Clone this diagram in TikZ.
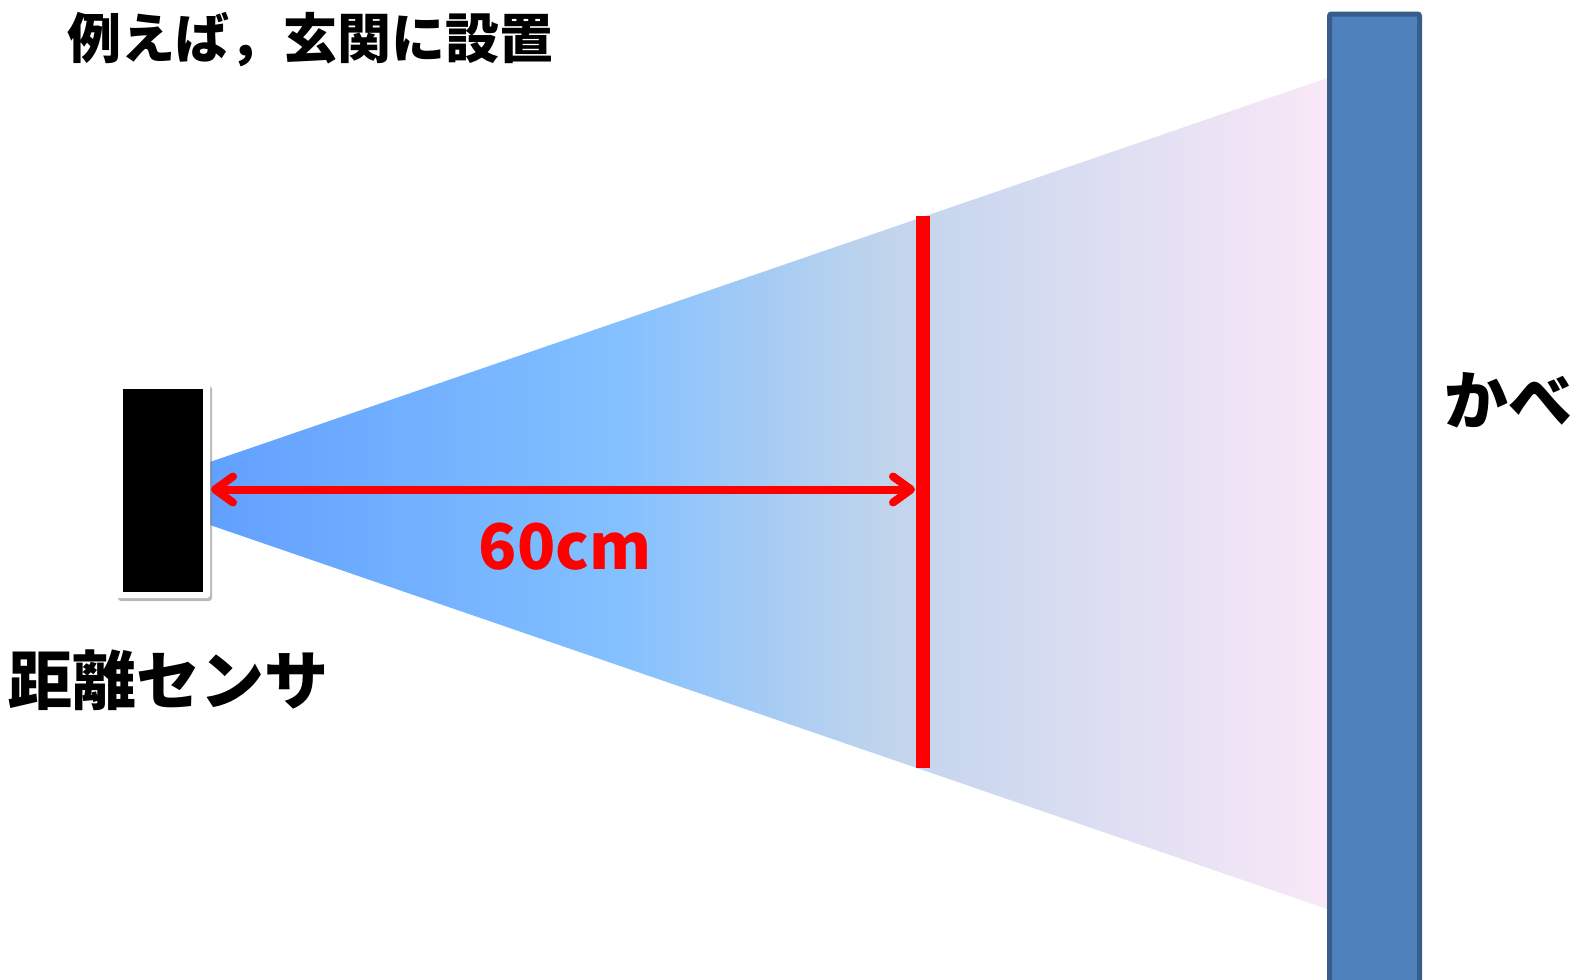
\documentclass[tikz,border=0pt]{standalone}
\usepackage{fontspec}
\setmainfont{Noto Sans CJK JP}
\usetikzlibrary{arrows.meta,shadows}
\definecolor{beamA}{RGB}{98,160,255}
\definecolor{beamB}{RGB}{130,192,255}
\definecolor{beamC}{RGB}{192,212,236}
\definecolor{beamD}{RGB}{250,232,248}
\definecolor{wallfill}{RGB}{79,129,189}
\definecolor{wallline}{RGB}{56,93,138}
\definecolor{redline}{RGB}{255,0,0}
\pgfdeclarehorizontalshading{beamshade}{100bp}{color(0bp)=(beamA); color(25bp)=(beamA); color(43bp)=(beamB); color(55bp)=(beamC); color(75bp)=(beamD); color(100bp)=(beamD)}
\tikzset{
  label/.style={font=\bfseries\fontsize{#1}{#1}\selectfont, inner sep=0pt},
  sensorbox/.style={draw=none, fill=white, rounded corners=3pt, drop shadow={shadow xshift=2pt, shadow yshift=-3pt, opacity=0.55}, minimum width=94pt, minimum height=215pt, inner sep=0pt},
  redarrow/.style={draw=redline, line width=8pt, {Straight Barb[length=18pt,width=26pt,round]}-{Straight Barb[length=18pt,width=26pt,round]}}
}
\begin{document}
\begin{tikzpicture}[x=1pt,y=-1pt]
\useasboundingbox (0,0) rectangle (1575,980);
% beam
\shade[shading=beamshade] (210,462) -- (1330,77) -- (1330,910) -- (210,525) -- cycle;
% wall
\node[draw=wallline, fill=wallfill, line width=5pt, rounded corners=2pt, minimum width=90pt, minimum height=990pt, inner sep=0pt] (wall) at (1374.5,509) {};
% sensor
\node[sensorbox] (sensor) at (163,490.5) {};
\node[fill=black, minimum width=80pt, minimum height=203pt, inner sep=0pt] (sensorface) at (163,490.5) {};
% red bar
\node[fill=redline, minimum width=14pt, minimum height=552pt, inner sep=0pt] (bar) at (923,492) {};
% arrow
\coordinate (aL) at (211,489.5);
\coordinate (aR) at (915,489.5);
\draw[redarrow] (aL) -- (aR);
% texts
\node[label=54] (title) at (310,40) {例えば，玄関に設置};
\node[label=63, text=redline] (dist) at (565,547) {60cm};
\node[label=64] (sensorlabel) at (169,680) {距離センサ};
\node[label=64, anchor=west] (walllabel) at (1444,400) {かべ};
\end{tikzpicture}
\end{document}
